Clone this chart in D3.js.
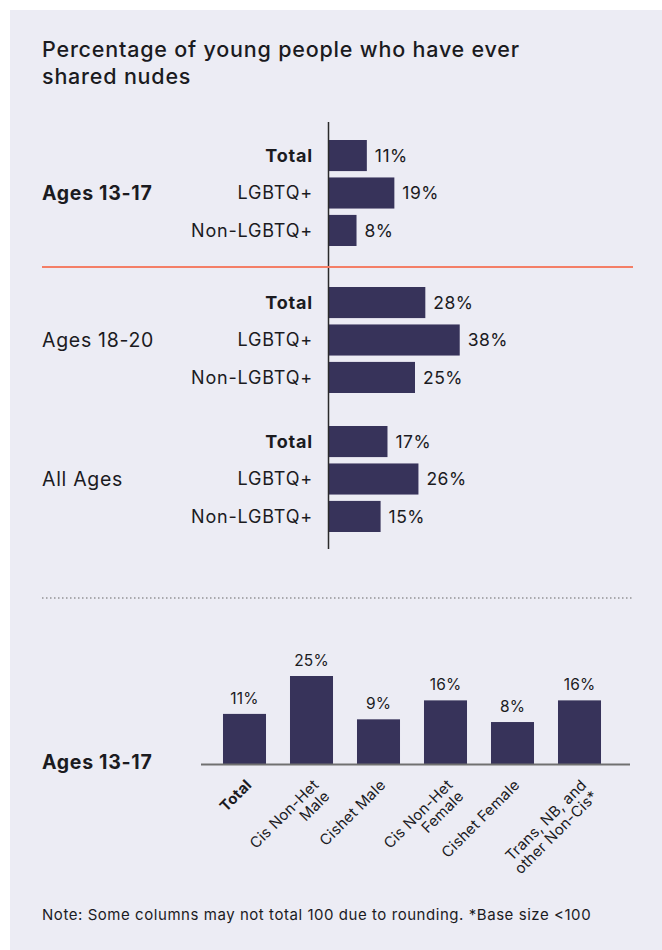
<!DOCTYPE html>
<html>
<head>
<meta charset="utf-8">
<script src="https://cdn.jsdelivr.net/npm/d3@7"></script>
<style>
  body { margin: 0; background: #fff; }
  svg text { font-family: Inter, "Noto Sans", sans-serif; fill: #1b1b1f; }
</style>
</head>
<body>
<div class="content"></div>
<script>
const W = 662, H = 950;

// horizontal bars: share who ever shared nudes, by age group
const ageGroups = ["Ages 13-17", "Ages 18-20", "All Ages"];
const rowLabels = ["Total", "LGBTQ+", "Non-LGBTQ+"];
const values1317 = [11, 19, 8];
const values1820 = [28, 38, 25];
const valuesAll = [17, 26, 15];

// column chart: ages 13-17 by identity
const colCategories = ["Total", "Cis Non-Het Male", "Cishet Male", "Cis Non-Het Female", "Cishet Female", "Trans, NB, and other Non-Cis*"];
const colLabelLines = [["Total"], ["Cis Non-Het", "Male"], ["Cishet Male"], ["Cis Non-Het", "Female"], ["Cishet Female"], ["Trans, NB, and", "other Non-Cis*"]];
const colValues = [11, 25, 9, 16, 8, 16];

const barColor = "#37335a";

const svg = d3.select(".content")
    .append("svg")
    .attr("width", W)
    .attr("height", H);

// panel
svg.append("rect")
    .attr("x", 10).attr("y", 10)
    .attr("width", W - 10).attr("height", H - 10)
    .attr("fill", "#ececf4");

// title
svg.append("text")
    .attr("x", 42).attr("y", 57)
    .style("font-size", "21.5px").style("font-weight", 500)
    .style("letter-spacing", "0.8px")
    .selectAll("tspan")
    .data(["Percentage of young people who have ever", "shared nudes"])
    .enter().append("tspan")
    .attr("x", 42)
    .attr("dy", (d, i) => i ? 27 : 0)
    .text(d => d);

// ---- horizontal bars ----
const groupData = [values1317, values1820, valuesAll];
const groupTop = [140, 287, 426];   // layout offsets for each block

const xScale = d3.scaleLinear()
    .domain([0, 100])
    .range([329, 329 + 344]);

const rowScale = d3.scaleBand()
    .domain(rowLabels)
    .range([0, 106])
    .paddingInner(0.17);

groupData.forEach((vals, gi) => {
    const rows = rowLabels.map((r, i) => ({ label: r, value: vals[i] }));
    const g = svg.append("g")
        .attr("transform", `translate(0, ${groupTop[gi]})`);

    g.selectAll(".barH")
        .data(rows)
        .enter().append("rect")
        .attr("class", "barH")
        .attr("x", xScale(0))
        .attr("y", d => rowScale(d.label))
        .attr("width", d => xScale(d.value) - xScale(0))
        .attr("height", rowScale.bandwidth())
        .attr("fill", barColor);

    g.selectAll(".valH")
        .data(rows)
        .enter().append("text")
        .attr("class", "valH")
        .attr("x", d => xScale(d.value) + 8)
        .attr("y", d => rowScale(d.label) + rowScale.bandwidth() / 2)
        .attr("dy", "0.36em")
        .style("font-size", "17.5px")
        .style("letter-spacing", "0.5px")
        .text(d => d.value + "%");

    g.selectAll(".rowLab")
        .data(rows)
        .enter().append("text")
        .attr("class", "rowLab")
        .attr("x", 313)
        .attr("y", d => rowScale(d.label) + rowScale.bandwidth() / 2)
        .attr("dy", "0.36em")
        .attr("text-anchor", "end")
        .style("font-size", "18px")
        .style("letter-spacing", "0.8px")
        .style("font-weight", d => d.label === "Total" ? 700 : 400)
        .text(d => d.label);

    g.append("text")
        .attr("x", 42)
        .attr("y", rowScale("LGBTQ+") + rowScale.bandwidth() / 2)
        .attr("dy", "0.36em")
        .style("font-size", "19.5px")
        .style("letter-spacing", "0.7px")
        .style("font-weight", gi === 0 ? 700 : 400)
        .text(ageGroups[gi]);
});

// axis line
svg.append("line")
    .attr("x1", xScale(0) - 0.5).attr("x2", xScale(0) - 0.5)
    .attr("y1", 122).attr("y2", 549)
    .attr("stroke", "#2a2a2a").attr("stroke-width", 1.5);

// separator between 13-17 and 18-20
svg.append("line")
    .attr("x1", 42).attr("x2", 633)
    .attr("y1", 267).attr("y2", 267)
    .attr("stroke", "#f47e66").attr("stroke-width", 2);

// dotted divider
svg.append("line")
    .attr("x1", 42).attr("x2", 633)
    .attr("y1", 598).attr("y2", 598)
    .attr("stroke", "#666").attr("stroke-width", 1.2)
    .attr("stroke-dasharray", "1.5,2.5");

// ---- column chart ----
const cols = colCategories.map((c, i) => ({ cat: c, lines: colLabelLines[i], value: colValues[i] }));

const xCol = d3.scaleBand()
    .domain(colCategories)
    .range([211, 613])
    .paddingInner(0.358)
    .paddingOuter(0.179);

const yCol = d3.scaleLinear()
    .domain([-7.5, 25])
    .range([764, 676]);

svg.selectAll(".barV")
    .data(cols)
    .enter().append("rect")
    .attr("class", "barV")
    .attr("x", d => xCol(d.cat))
    .attr("y", d => yCol(d.value))
    .attr("width", xCol.bandwidth())
    .attr("height", d => yCol.range()[0] - yCol(d.value))
    .attr("fill", barColor);

svg.selectAll(".valV")
    .data(cols)
    .enter().append("text")
    .attr("class", "valV")
    .attr("x", d => xCol(d.cat) + xCol.bandwidth() / 2)
    .attr("y", d => yCol(d.value) - 10)
    .attr("text-anchor", "middle")
    .style("font-size", "15.5px")
    .style("letter-spacing", "0.2px")
    .text(d => d.value + "%");

svg.append("line")
    .attr("x1", xCol.range()[0] - 10).attr("x2", xCol.range()[1] + 17)
    .attr("y1", yCol.range()[0] + 0.5).attr("y2", yCol.range()[0] + 0.5)
    .attr("stroke", "#707070").attr("stroke-width", 2);

const colLab = svg.selectAll(".colLab")
    .data(cols)
    .enter().append("text")
    .attr("class", "colLab")
    .attr("text-anchor", "end")
    .attr("transform", d => `translate(${xCol(d.cat) + xCol.bandwidth() / 2 + 8}, ${yCol.range()[0] + 22}) rotate(-45)`)
    .style("font-size", "15px")
    .style("letter-spacing", "0.2px")
    .style("font-weight", d => d.cat === "Total" ? 700 : 400);

colLab.selectAll("tspan")
    .data(d => d.lines)
    .enter().append("tspan")
    .attr("x", 0)
    .attr("dy", (d, i) => i ? "1.05em" : 0)
    .text(d => d);

svg.append("text")
    .attr("x", 42).attr("y", 769)
    .style("font-size", "19.5px").style("font-weight", 700)
    .style("letter-spacing", "0.7px")
    .text("Ages 13-17");

// note
svg.append("text")
    .attr("x", 42).attr("y", 920)
    .style("font-size", "15px")
    .style("letter-spacing", "0.55px")
    .text("Note: Some columns may not total 100 due to rounding. *Base size <100");
</script>
</body>
</html>
